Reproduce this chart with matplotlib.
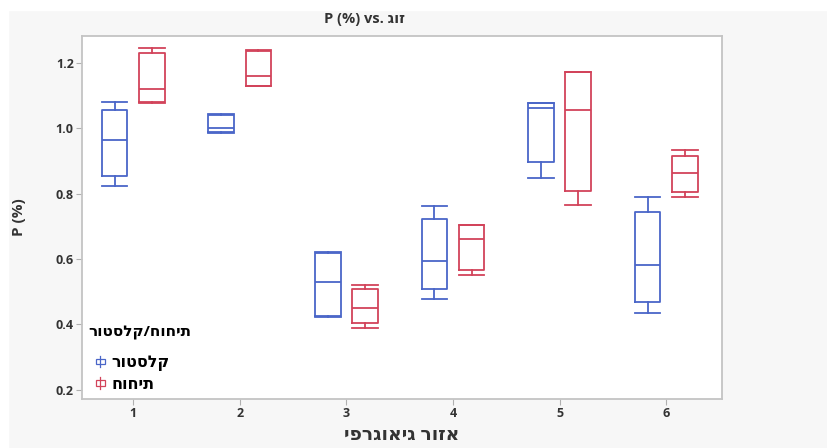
import matplotlib.pyplot as plt
from matplotlib.patches import Rectangle
from matplotlib.lines import Line2D
from matplotlib.legend_handler import HandlerBase

plt.rcParams['font.family'] = ['Open Sans', 'DejaVu Sans']

# data (per geographic region 1..6)
regions = [1, 2, 3, 4, 5, 6]
cluster_whislo = [0.823, 0.985, 0.421, 0.477, 0.849, 0.435]
cluster_q1 = [0.854, 0.990, 0.426, 0.507, 0.896, 0.469]
cluster_med = [0.964, 1.000, 0.530, 0.594, 1.064, 0.583]
cluster_q3 = [1.056, 1.040, 0.617, 0.722, 1.078, 0.743]
cluster_whishi = [1.081, 1.045, 0.620, 0.763, 1.078, 0.791]

crumb_whislo = [1.078, 1.130, 0.390, 0.551, 0.765, 0.791]
crumb_q1 = [1.080, 1.130, 0.403, 0.566, 0.809, 0.806]
crumb_med = [1.122, 1.160, 0.451, 0.660, 1.058, 0.862]
crumb_q3 = [1.230, 1.238, 0.507, 0.704, 1.173, 0.915]
crumb_whishi = [1.247, 1.240, 0.520, 0.705, 1.173, 0.934]

BLUE = '#4a66c8'
RED = '#d2435a'


def heb(s):
    # matplotlib has no bidi support, so flip hebrew text to visual order
    return s[::-1]


def make_stats(lo, q1, med, q3, hi):
    return [dict(whislo=a, q1=b, med=c, q3=d, whishi=e, fliers=[])
            for a, b, c, d, e in zip(lo, q1, med, q3, hi)]


fig = plt.figure(figsize=(8.27, 4.48), dpi=100, facecolor='#f7f7f7')
fig.patches.append(Rectangle((0, 0.978), 1, 0.03, transform=fig.transFigure,
                             color='white', zorder=-1))
fig.patches.append(Rectangle((0, 0), 0.01, 1, transform=fig.transFigure,
                             color='white', zorder=-1))
ax = fig.add_axes([0.0992, 0.1094, 0.774, 0.810])
ax.set_facecolor('white')

off = 0.175
w = 0.24
for stats, sign, col in [
    (make_stats(cluster_whislo, cluster_q1, cluster_med, cluster_q3, cluster_whishi), -1, BLUE),
    (make_stats(crumb_whislo, crumb_q1, crumb_med, crumb_q3, crumb_whishi), 1, RED),
]:
    pos = [r + sign * off for r in regions]
    lp = dict(color=col, linewidth=1.3)
    ax.bxp(stats, positions=pos, widths=w, capwidths=w, showfliers=False,
           boxprops=lp, medianprops=lp, whiskerprops=lp, capprops=lp,
           manage_ticks=False)

ax.set_xlim(0.52, 6.525)
ax.set_ylim(0.171, 1.283)
ax.set_xticks(regions)
ax.set_xticklabels([str(r) for r in regions])
ax.set_yticks([0.2, 0.4, 0.6, 0.8, 1.0, 1.2])
ax.set_yticklabels(['0.2', '0.4', '0.6', '0.8', '1.0', '1.2'])
for lab in ax.get_xticklabels() + ax.get_yticklabels():
    lab.set_fontweight('bold')
    lab.set_fontsize(9)
    lab.set_color('#333333')
ax.tick_params(axis='both', length=4, color='#b0b0b0', pad=2)
for sp in ax.spines.values():
    sp.set_color('#c4c4c4')
    sp.set_linewidth(1.3)

ax.set_xlabel(heb('אזור גיאוגרפי'), fontsize=13.5, fontweight='bold',
              color='#333333', labelpad=3)
ax.set_ylabel('P (%)', fontsize=11, fontweight='bold', color='#333333',
              labelpad=21)
fig.text(364 / 827, 1 - 19 / 448, 'P (%) vs. ' + heb('זוג'), fontsize=10.5,
         fontweight='bold', ha='center', va='center', color='#333333')


class BoxIcon(HandlerBase):
    def create_artists(self, legend, orig_handle, xdescent, ydescent,
                       width, height, fontsize, trans):
        col = orig_handle.get_color()
        cx = width - 4
        bw, bh = 6, height * 0.5
        rect = Rectangle((cx - bw / 2, height / 2 - bh / 2), bw, bh,
                         facecolor='none', edgecolor=col, lw=0.9,
                         transform=trans)
        whisk = Line2D([cx, cx], [0, height], color=col, lw=0.9,
                       transform=trans)
        return [rect, whisk]


handles = [Line2D([], [], color=BLUE), Line2D([], [], color=RED)]
leg = ax.legend(handles, [heb('קלסטור'), heb('תיחוח')],
                handler_map={Line2D: BoxIcon()},
                title=heb('תיחוח/קלסטור'), loc='lower left',
                bbox_to_anchor=(0.0, 0.0), frameon=False,
                prop=dict(weight='bold', size=11.5), handlelength=1.1,
                handletextpad=0.35, labelspacing=0.35, borderaxespad=0.2,
                borderpad=0.2)
leg.get_title().set_fontweight('bold')
leg.get_title().set_fontsize(11)
leg._legend_box.align = 'left'
leg._legend_box.sep = 11

fig.savefig('out.png', dpi=100, facecolor=fig.get_facecolor())
